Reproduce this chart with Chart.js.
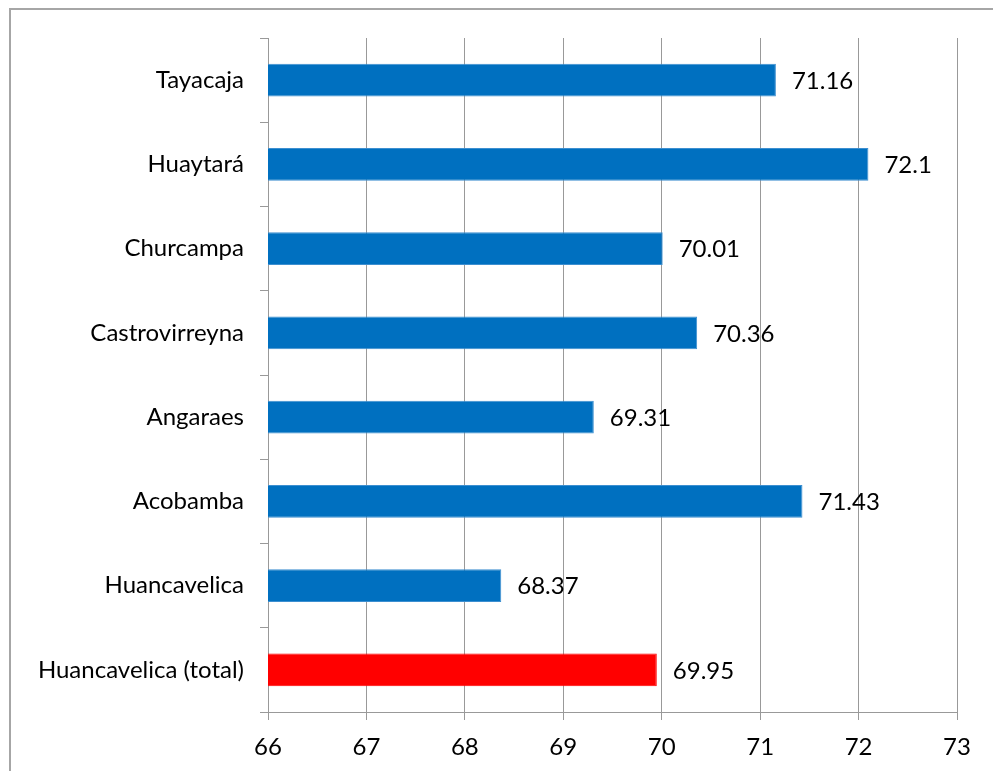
<!DOCTYPE html>
<html>
<head>
<meta charset="utf-8">
<script src="https://cdn.jsdelivr.net/npm/chart.js@4"></script>
<style>
  html, body { margin: 0; padding: 0; background: #fff; }
  #wrap { position: relative; width: 993px; height: 771px; overflow: hidden; }
  #frame { position: absolute; left: 9px; top: 8px; width: 1200px; height: 1000px; border: 2px solid #a6a6a6; box-sizing: border-box; }
  canvas { position: absolute; left: 0; top: 0; }
</style>
</head>
<body>
<div id="wrap">
  <div id="frame"></div>
  <canvas id="chart1" width="993" height="771"></canvas>
</div>
<script>
const provinces = ['Tayacaja', 'Huaytará', 'Churcampa', 'Castrovirreyna', 'Angaraes', 'Acobamba', 'Huancavelica', 'Huancavelica (total)'];
const values = [71.16, 72.1, 70.01, 70.36, 69.31, 71.43, 68.37, 69.95];
const barColors = ['#0070c0', '#0070c0', '#0070c0', '#0070c0', '#0070c0', '#0070c0', '#0070c0', '#ff0000'];
const xMin = 66;
const xMax = 73;

const font = "Lato, 'Open Sans', sans-serif";

// value text to the right of each bar
const valueLabels = {
  id: 'valueLabels',
  afterDatasetsDraw(chart) {
    const ctx = chart.ctx;
    const meta = chart.getDatasetMeta(0);
    ctx.save();
    ctx.font = '24px ' + font;
    ctx.fillStyle = '#000';
    ctx.textAlign = 'left';
    ctx.textBaseline = 'middle';
    meta.data.forEach((bar, i) => {
      ctx.fillText(String(values[i]), bar.x + 16, bar.y + 1);
    });
    ctx.restore();
  }
};

const ctx = document.getElementById('chart1').getContext('2d');
const myChart = new Chart(ctx, {
  type: 'bar',
  data: {
    labels: provinces,
    datasets: [{
      data: values,
      backgroundColor: barColors,
      borderColor: barColors.map(c => c === '#0070c0' ? '#3d8fd0' : c),
      borderWidth: 1,
      borderSkipped: false,
      categoryPercentage: 1,
      barPercentage: 0.39
    }]
  },
  options: {
    indexAxis: 'y',
    responsive: false,
    animation: false,
    layout: { padding: { top: 38, right: 36, left: 0, bottom: 0 } },
    plugins: {
      legend: { display: false },
      tooltip: { enabled: false }
    },
    scales: {
      x: {
        min: xMin,
        max: xMax,
        ticks: { stepSize: 1, color: '#000', font: { family: font, size: 24 }, padding: 13 },
        grid: { color: '#999', lineWidth: 1, tickLength: 8 },
        border: { color: '#999', width: 1 },
        afterFit(scale) { scale.height = 59; }
      },
      y: {
        ticks: { color: '#000', font: { family: font, size: 24 }, padding: 16 },
        grid: { drawOnChartArea: false, offset: true, color: '#999', tickLength: 8 },
        border: { color: '#999', width: 1 },
        afterFit(scale) { scale.width = 268; }
      }
    }
  },
  plugins: [valueLabels]
});
</script>
</body>
</html>
